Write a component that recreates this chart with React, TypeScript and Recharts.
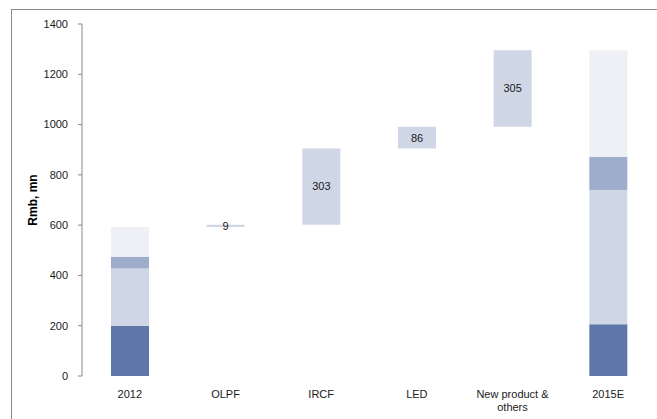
import React from 'react';
import { BarChart, Bar, XAxis, YAxis, LabelList, Label } from 'recharts';

// Revenue bridge, Rmb mn
const categories = ['2012', 'OLPF', 'IRCF', 'LED', 'New product & others', '2015E'];
const darkPart = [200, null, null, null, null, 206];
const lightPart = [228, null, null, null, null, 534];
const midPart = [46, null, null, null, null, 132];
const palePart = [119, null, null, null, null, 424];
const steps = [null, 9, 303, 86, 305, null];
const yTicks = [0, 200, 400, 600, 800, 1000, 1200, 1400];

const COLORS = {
  dark: '#5e76a8',
  light: '#cfd7e6',
  mid: '#9eadcb',
  pale: '#eef0f6',
  axis: '#8a8a8a',
};

// floating bars start where the running total left off
const startTotal = [darkPart, lightPart, midPart, palePart].reduce((s, a) => s + (a[0] ?? 0), 0);
let running = startTotal;
const data = categories.map((name, i) => {
  const row: Record<string, any> = {
    name,
    dark: darkPart[i],
    light: lightPart[i],
    mid: midPart[i],
    pale: palePart[i],
    step: steps[i],
    base: null,
  };
  if (steps[i] != null) {
    row.base = running;
    running += steps[i] as number;
  }
  return row;
});

const font = 'Arial, "Liberation Sans", sans-serif';

// break long names after the ampersand, as in "New product &" / "others"
const CategoryTick = (props: any) => {
  const { x, y, payload } = props;
  const text: string = payload.value;
  const cut = text.indexOf('& ');
  const lines = cut >= 0 ? [text.slice(0, cut + 1), text.slice(cut + 2)] : [text];
  return (
    <text x={x} y={y} textAnchor="middle" fontSize={11} fontFamily={font} fill="#1a1a1a">
      {lines.map((l, i) => (
        <tspan key={i} x={x} dy={i === 0 ? 8 : 13}>
          {l}
        </tspan>
      ))}
    </text>
  );
};

const App: React.FC = () => {
  return (
    <div style={{ position: 'fixed', left: 0, top: 0, width: 657, height: 419, background: '#fff' }}>
      <div
        style={{
          position: 'absolute',
          left: 11,
          top: 9,
          right: 0,
          bottom: 0,
          borderLeft: `1px solid ${COLORS.axis}`,
          borderTop: `1px solid ${COLORS.axis}`,
        }}
      />
      <BarChart
        width={657}
        height={419}
        data={data}
        margin={{ top: 24, right: 1, bottom: 13, left: 22 }}
        barSize={38}
        style={{ position: 'absolute', left: 0, top: 0 }}
      >
        <XAxis
          dataKey="name"
          xAxisId="cat"
          axisLine={false}
          tickLine={false}
          tick={<CategoryTick />}
          tickMargin={8}
          interval={0}
          height={30}
        />
        {/* separate numeric axis only for the boundary tick marks */}
        <XAxis
          xAxisId="edges"
          type="number"
          domain={[0, 6]}
          ticks={[0, 1, 2, 3, 4, 5, 6]}
          tick={false}
          tickSize={3}
          stroke={COLORS.axis}
          height={0}
        />
        <YAxis
          width={60}
          domain={[0, 1400]}
          ticks={yTicks}
          tickSize={4}
          tickMargin={10}
          stroke={COLORS.axis}
          tick={{ fontSize: 11, fill: '#1a1a1a', fontFamily: font }}
        >
          <Label
            value="Rmb, mn"
            angle={-90}
            position="insideLeft"
            offset={11}
            style={{ fontSize: 12, fontWeight: 'bold', fill: '#000', fontFamily: font, textAnchor: 'middle' }}
          />
        </YAxis>
        <Bar dataKey="base" stackId="w" xAxisId="cat" fill="transparent" isAnimationActive={false} />
        <Bar dataKey="dark" stackId="w" xAxisId="cat" fill={COLORS.dark} isAnimationActive={false} />
        <Bar dataKey="light" stackId="w" xAxisId="cat" fill={COLORS.light} isAnimationActive={false} />
        <Bar dataKey="mid" stackId="w" xAxisId="cat" fill={COLORS.mid} isAnimationActive={false} />
        <Bar dataKey="pale" stackId="w" xAxisId="cat" fill={COLORS.pale} isAnimationActive={false} />
        <Bar dataKey="step" stackId="w" xAxisId="cat" fill={COLORS.light} isAnimationActive={false}>
          <LabelList
            dataKey="step"
            position="center"
            style={{ fontSize: 11, fill: '#1a1a1a', fontFamily: font }}
          />
        </Bar>
      </BarChart>
    </div>
  );
};

export default App;
